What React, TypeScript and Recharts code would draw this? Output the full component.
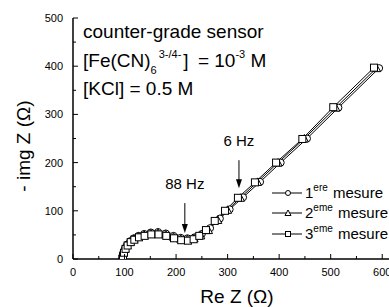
import { LineChart, Line, XAxis, YAxis, ReferenceLine } from 'recharts'

const FONT = '"Liberation Sans", Arial, Helvetica, sans-serif'

// 1ere mesure (circles)
const m1X = [95, 96, 98, 101, 105, 111, 118, 127, 138, 151, 165, 180, 195, 209, 222, 236, 250, 266, 285, 304, 330, 363, 403, 454, 515, 594]
const m1Y = [0, 7, 15, 23, 30, 37, 43, 48, 52, 55, 56, 53, 48, 44, 43, 45, 52, 64, 84, 103, 128, 160, 200, 250, 314, 396]

// 2eme mesure (triangles)
const m2X = [95, 96, 98, 101, 105, 111, 118, 127, 138, 151, 165, 180, 195, 209, 222, 235, 248, 263, 281, 300, 325, 358, 398, 449, 510, 589]
const m2Y = [0, 6, 14, 22, 29, 36, 42, 47, 50, 53, 54, 51, 46, 42, 41, 43, 49, 60, 81, 102, 127, 160, 200, 250, 314, 396]

// 3eme mesure (squares)
const m3X = [96, 97, 99, 102, 106, 112, 119, 128, 139, 152, 166, 181, 196, 210, 223, 234, 245, 258, 275, 295, 320, 353, 394, 445, 505, 584]
const m3Y = [0, 6, 13, 21, 28, 35, 40, 45, 48, 51, 51, 48, 43, 39, 38, 41, 48, 60, 79, 100, 127, 159, 200, 249, 315, 397]

const xTicks = [0, 50, 100, 150, 200, 250, 300, 350, 400, 450, 500, 550, 600, 650]
const yTicks = [0, 50, 100, 150, 200, 250, 300, 350, 400, 450, 500]

// frequency markers
const arrowX = [217, 322]
const arrowFrom = [116, 205]
const arrowTo = [54, 147]
const arrowLabels = ['88 Hz', '6 Hz']

const legendNums = ['1', '2', '3']
const legendSups = ['ere', 'eme', 'eme']
const legendShapes = ['circle', 'triangle', 'square']

const toPoints = (xs: number[], ys: number[]) => xs.map((x, i) => ({ x, y: ys[i] }))

function Marker({ shape, cx, cy, size }: { shape: string; cx: number; cy: number; size: number }) {
  const h = size / 2
  if (shape === 'square') {
    return <rect x={cx - h} y={cy - h} width={size} height={size} fill="#fff" stroke="#000" strokeWidth={1} />
  }
  if (shape === 'triangle') {
    return (
      <polygon
        points={`${cx},${cy - h - 0.5} ${cx + h + 0.5},${cy + h} ${cx - h - 0.5},${cy + h}`}
        fill="#fff"
        stroke="#000"
        strokeWidth={1}
      />
    )
  }
  return <circle cx={cx} cy={cy} r={h} fill="#fff" stroke="#000" strokeWidth={1} />
}

const dotFor = (shape: string) => (props: any) => (
  <Marker key={`${shape}-${props.index}`} shape={shape} cx={props.cx} cy={props.cy} size={7} />
)

const BottomTick = (props: any) => {
  const { x, y, payload } = props
  const major = payload.value % 100 === 0
  return (
    <g>
      <line x1={x} x2={x} y1={y} y2={y - (major ? 5 : 3)} stroke="#000" strokeWidth={1} />
      {major && (
        <text x={x} y={y + 16.5} textAnchor="middle" fontSize={11} fontFamily={FONT} fill="#000">
          {payload.value}
        </text>
      )}
    </g>
  )
}

const TopTick = (props: any) => {
  const { x, y, payload } = props
  const major = payload.value % 100 === 0
  return <line x1={x} x2={x} y1={y} y2={y + (major ? 5 : 3)} stroke="#000" strokeWidth={1} />
}

const LeftTick = (props: any) => {
  const { x, y, payload } = props
  const major = payload.value % 100 === 0
  return (
    <g>
      <line x1={x} x2={x + (major ? 5 : 3)} y1={y} y2={y} stroke="#000" strokeWidth={1} />
      {major && (
        <text x={x - 10} y={y + 4} textAnchor="end" fontSize={11} fontFamily={FONT} fill="#000">
          {payload.value}
        </text>
      )}
    </g>
  )
}

const arrowShape = (label: string) => (props: any) => {
  const { x1, y1, x2, y2 } = props
  return (
    <g>
      <line x1={x1} y1={y1} x2={x2} y2={y2 - 8} stroke="#000" strokeWidth={1} />
      <polygon points={`${x2},${y2} ${x2 - 3},${y2 - 9} ${x2 + 3},${y2 - 9}`} fill="#000" />
      <text x={x1} y={y1 - 14} textAnchor="middle" fontSize={15} fontFamily={FONT} fill="#000">
        {label}
      </text>
    </g>
  )
}

const axisLine = { stroke: '#000', strokeWidth: 1.5 }

export default function App() {
  const series = [toPoints(m1X, m1Y), toPoints(m2X, m2Y), toPoints(m3X, m3Y)]
  const legendRows = [193, 213, 234]

  return (
    <div style={{ position: 'absolute', left: 0, top: 0, width: 389, height: 307, overflow: 'hidden', background: '#fff' }}>
      <LineChart width={420} height={307} margin={{ top: 18, right: 12, bottom: 0, left: 0 }}>
        <XAxis
          type="number"
          dataKey="x"
          domain={[0, 650]}
          ticks={xTicks}
          interval={0}
          tickLine={false}
          tickSize={0}
          tickMargin={0}
          tick={BottomTick}
          axisLine={axisLine}
          height={48}
          allowDataOverflow
        />
        <XAxis
          xAxisId="top"
          orientation="top"
          type="number"
          dataKey="x"
          domain={[0, 650]}
          ticks={xTicks}
          interval={0}
          tickLine={false}
          tickSize={0}
          tickMargin={0}
          tick={TopTick}
          axisLine={axisLine}
          height={0}
          allowDataOverflow
        />
        <YAxis
          type="number"
          domain={[0, 500]}
          ticks={yTicks}
          interval={0}
          tickLine={false}
          tickSize={0}
          tickMargin={0}
          tick={LeftTick}
          axisLine={axisLine}
          width={73}
          allowDataOverflow
        />
        {arrowX.map((x, i) => (
          <ReferenceLine
            key={arrowLabels[i]}
            segment={[
              { x, y: arrowFrom[i] },
              { x, y: arrowTo[i] },
            ]}
            shape={arrowShape(arrowLabels[i])}
          />
        ))}
        {series.map((data, i) => (
          <Line
            key={legendShapes[i]}
            data={data}
            dataKey="y"
            type="linear"
            stroke="#000"
            strokeWidth={1}
            dot={dotFor(legendShapes[i])}
            activeDot={false}
            isAnimationActive={false}
          />
        ))}
      </LineChart>

      <svg width={389} height={307} style={{ position: 'absolute', left: 0, top: 0, pointerEvents: 'none' }} fontFamily={FONT}>
        <text x={83} y={38} fontSize={19} fill="#000">counter-grade sensor</text>
        <text x={83} y={67} fontSize={19} fill="#000">
          [Fe(CN)
          <tspan fontSize={11} dy={7}>6</tspan>
          <tspan fontSize={11} dy={-16} dx={2}>3-/4-</tspan>
          <tspan dy={9} dx={2}>] </tspan>
          <tspan dx={4}>= 10</tspan>
          <tspan fontSize={11} dy={-9}>-3</tspan>
          <tspan dy={9}> M</tspan>
        </text>
        <text x={83} y={95} fontSize={19} fill="#000">[KCl] = 0.5 M</text>

        <text x={237} y={303} textAnchor="middle" fontSize={19} fill="#000">Re Z (Ω)</text>
        <text transform="translate(30,146) rotate(-90)" textAnchor="middle" fontSize={19} fill="#000">- img Z (Ω)</text>

        {legendRows.map((cy, i) => (
          <g key={legendShapes[i]}>
            <line x1={272} x2={302} y1={cy} y2={cy} stroke="#000" strokeWidth={1} />
            <Marker shape={legendShapes[i]} cx={288} cy={cy} size={5} />
            <text x={305} y={cy + 5} fontSize={15} fill="#000">
              {legendNums[i]}
              <tspan fontSize={10} dy={-7}>{legendSups[i]}</tspan>
              <tspan dy={7} dx={1}> mesure</tspan>
            </text>
          </g>
        ))}
      </svg>
    </div>
  )
}
